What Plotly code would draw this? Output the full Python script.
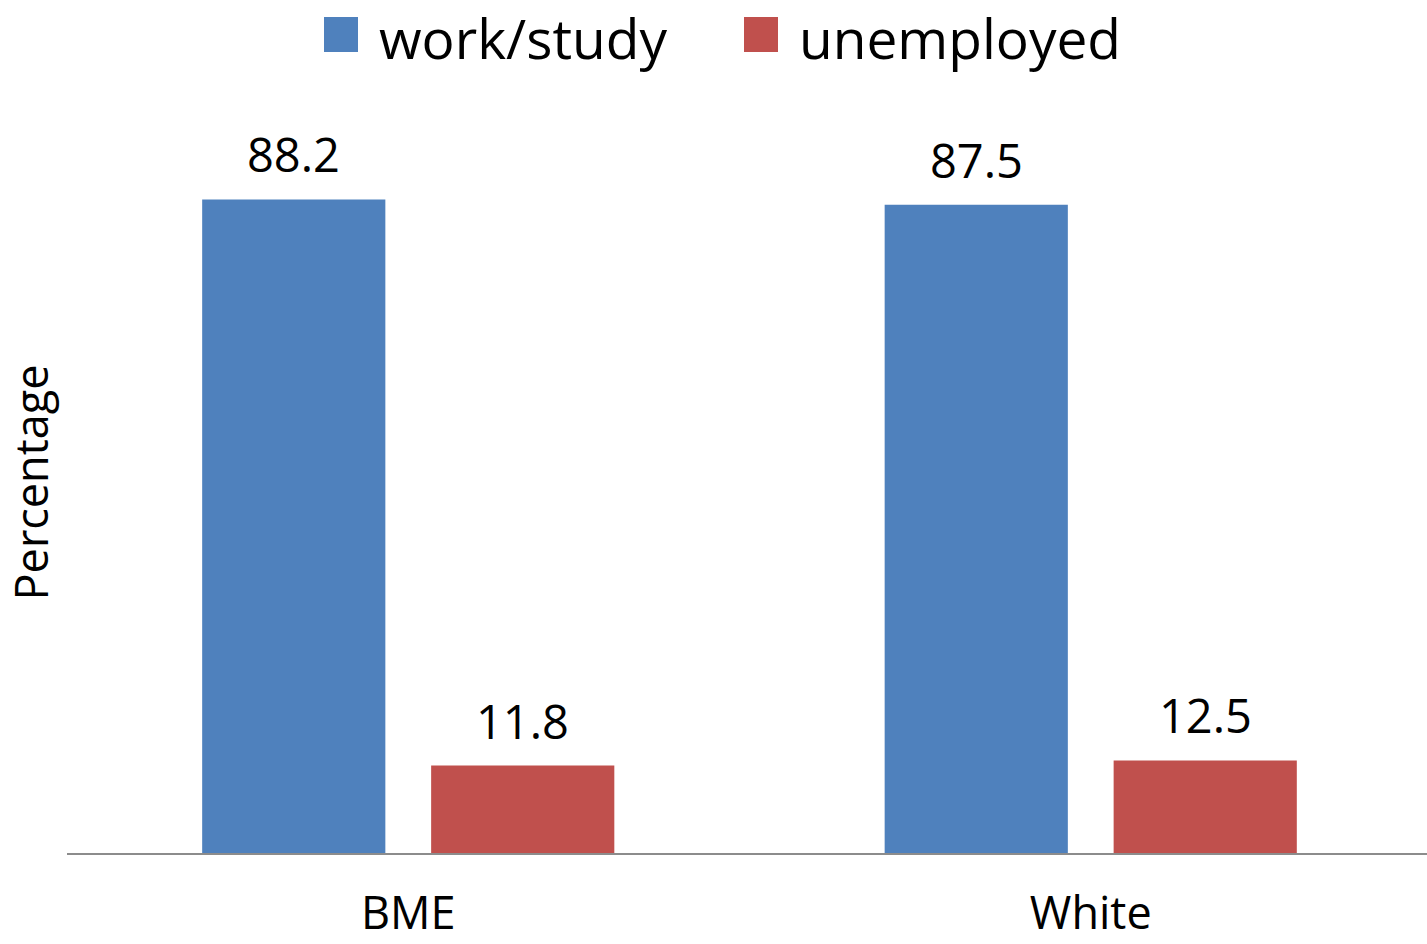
import plotly.graph_objects as go

# Outcome by ethnic group (percent)
categories = ["BME", "White"]
series_names = ["work/study", "unemployed"]
work_study = [88.2, 87.5]
unemployed = [11.8, 12.5]
colors = ["#4F81BD", "#C0504D"]

FONT = "Open Sans, Noto Sans, DejaVu Sans, sans-serif"

W, H = 1427, 944
M_L, M_R, M_T, M_B = 67, 0, 112, 91
plot_w = W - M_L - M_R
plot_h = H - M_T - M_B

X_RANGE = [-0.5, 1.4927]
BARGAP, BARGROUPGAP = 0.329, 0.2

fig = go.Figure()
for name, vals, col in zip(series_names, [work_study, unemployed], colors):
    fig.add_trace(go.Bar(
        x=categories, y=vals, name=name,
        marker=dict(color=col, line=dict(width=0)),
        showlegend=False,
    ))

# value labels centred over each bar of the group
cat_px = plot_w / (X_RANGE[1] - X_RANGE[0])
slot_px = cat_px * (1 - BARGAP) / len(series_names)
annotations = []
for i, vals in enumerate([work_study, unemployed]):
    shift = (i - (len(series_names) - 1) / 2) * slot_px
    for cat, v in zip(categories, vals):
        annotations.append(dict(x=cat, y=v, xref="x", yref="y",
                                xshift=shift, yshift=11,
                                xanchor="center", yanchor="bottom", showarrow=False,
                                text=f"{v:.1f}",
                                font=dict(size=47, color="black", family=FONT)))

# legend drawn as large swatches + labels above the plot
def px_x(p):
    return (p - M_L) / plot_w

def px_y(p):
    return (H - M_B - p) / plot_h

swatch_left = [324, 744]
label_left = [377, 797]
shapes = []
for name, col, sx, lx in zip(series_names, colors, swatch_left, label_left):
    shapes.append(dict(type="rect", xref="paper", yref="paper",
                       x0=px_x(sx), x1=px_x(sx + 34), y0=px_y(52), y1=px_y(17),
                       fillcolor=col, line=dict(width=0)))
    annotations.append(dict(xref="paper", yref="paper", x=px_x(lx), y=px_y(37),
                            xanchor="left", yanchor="middle", showarrow=False,
                            text=name, font=dict(size=55, color="black", family=FONT)))

fig.update_layout(
    width=W, height=H,
    margin=dict(l=M_L, r=M_R, t=M_T, b=M_B, pad=0, autoexpand=False),
    paper_bgcolor="white", plot_bgcolor="white",
    barmode="group", bargap=BARGAP, bargroupgap=BARGROUPGAP,
    showlegend=False,
    shapes=shapes, annotations=annotations,
    font=dict(family=FONT, color="black"),
)
fig.update_xaxes(
    range=X_RANGE, automargin=False,
    showline=True, linecolor="#8c8c8c", linewidth=1.5,
    ticks="", showgrid=False,
    tickfont=dict(size=45, color="black", family=FONT),
    ticklabelstandoff=20,
)
fig.update_yaxes(
    range=[0, 100], automargin=False,
    showline=False, showgrid=False, zeroline=False,
    showticklabels=False, ticks="",
    title=dict(text="Percentage", font=dict(size=45, color="black", family=FONT), standoff=6),
)

fig.write_html("out.html")
